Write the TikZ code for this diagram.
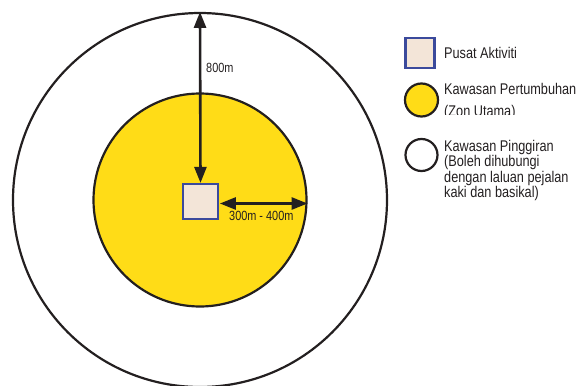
\documentclass[tikz,border=0pt]{standalone}
\usepackage{fontspec}
\setmainfont{Liberation Sans}[FakeStretch=0.82]
\usetikzlibrary{positioning,arrows.meta}
\definecolor{kuning}{HTML}{FFDC17}
\definecolor{krim}{HTML}{F3E5D8}
\definecolor{biru}{HTML}{3B4A9C}
\definecolor{hitam}{HTML}{231F20}
\begin{document}
\begin{tikzpicture}[x=1pt, y=-1pt,
    zone/.style={circle, draw=hitam, line width=2.2pt, inner sep=0pt},
    pusatbox/.style={rectangle, draw=biru, fill=krim, line width=2.2pt, inner sep=0pt},
    dimarrow/.style={{Triangle[length=16pt,width=12pt]}-{Triangle[length=16pt,width=12pt]}, line width=2.6pt, draw=hitam},
    dimlabel/.style={font=\fontsize{13.3}{14}\selectfont, text=hitam, inner sep=0pt},
    legendtext/.style={font=\fontsize{15.5}{15.5}\selectfont, text=hitam, inner sep=0pt, align=left}]
      \useasboundingbox (0,0) rectangle (582,386);

      % Zones
      \node (pinggiran) [zone, minimum size=374pt] at (200,200) {};
      \node (utama) [zone, fill=kuning, minimum size=213pt] at (200,200) {};
      \node (pusat) [pusatbox, minimum width=34.5pt, minimum height=35pt] at (200.5,201.5) {};

      % Distances
      \draw[dimarrow] (pusat.north) -- (pinggiran.north);
      \draw[dimarrow] ([xshift=1pt,yshift=-2pt]pusat.east) -- ([yshift=-2pt]pusat.east -| utama.east);
      \node (jarak800) [dimlabel, anchor=base west] at (206,72) {800m};
      \node (jarak300) [dimlabel, anchor=base west] at (229,220.5) {300m - 400m};

      % Legend
      \node (kpusat) [pusatbox, minimum width=29pt, minimum height=30pt] at (420,53) {};
      \node (kutama) [zone, fill=kuning, minimum size=33pt] at (421.5,100) {};
      \node (kpinggiran) [zone, fill=white, minimum size=32pt] at (421.5,155) {};

      \node (tpusat) [legendtext, anchor=base west] at (444,58) {Pusat Aktiviti};
      \node (tutama) [legendtext, anchor=base west] at (444,94) {Kawasan Pertumbuhan};
      \begin{scope}
        \clip (440,100) rectangle (582,114.5);
        \node (tzon) [legendtext, anchor=base west] at (444,116) {(Zon Utama)};
      \end{scope}
      % base of a multi-line node is its last line
      \node (tpinggiran) [legendtext, anchor=base west] at (444,197.5)
        {Kawasan Pinggiran\\(Boleh dihubungi\\dengan laluan pejalan\\kaki dan basikal)};
\end{tikzpicture}
\end{document}
